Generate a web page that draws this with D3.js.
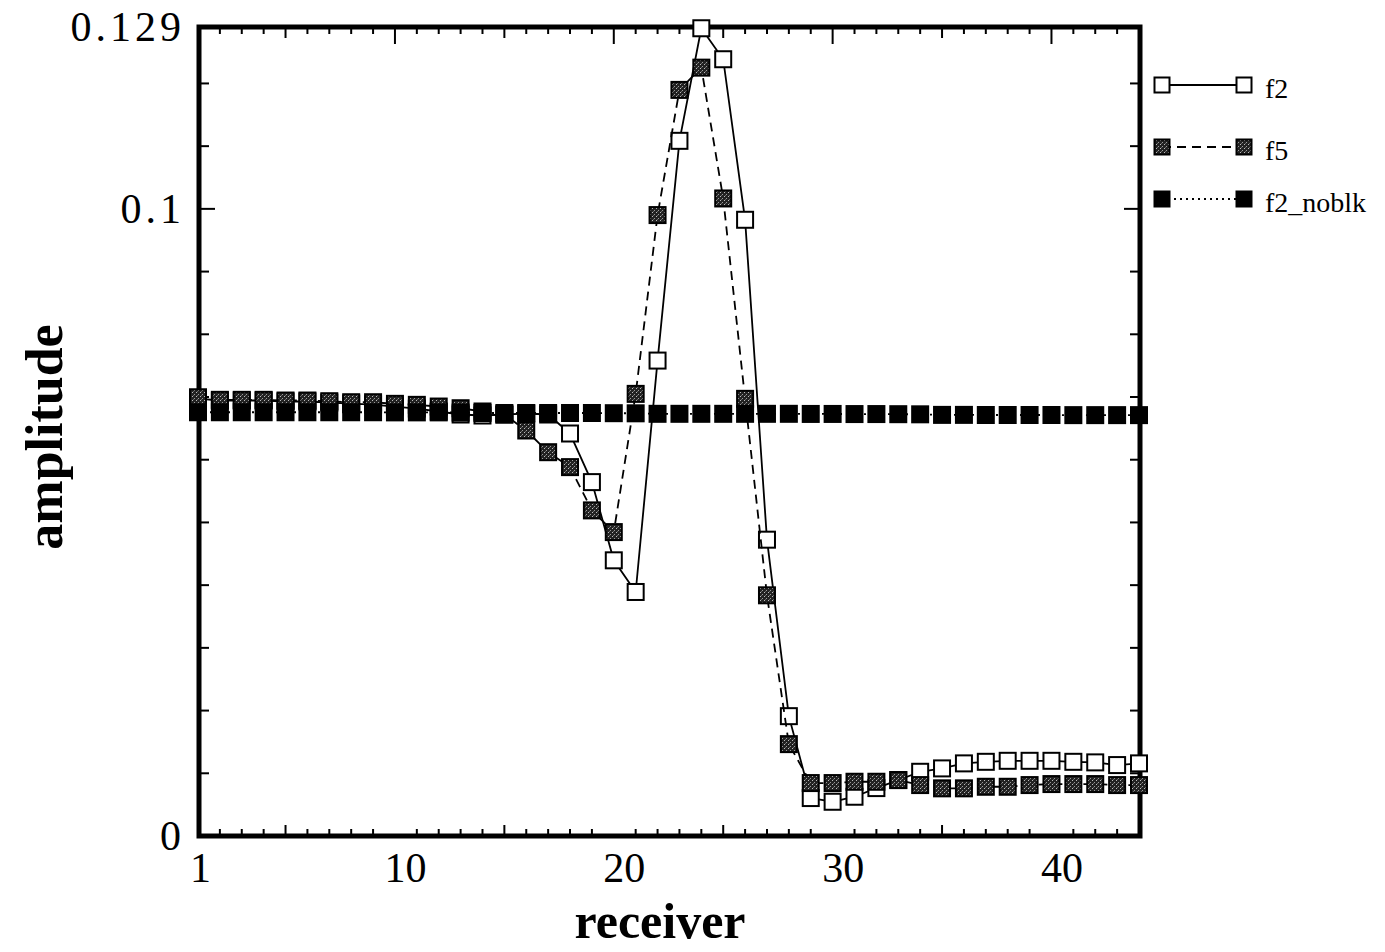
<!DOCTYPE html>
<html><head><meta charset="utf-8">
<script src="https://cdn.jsdelivr.net/npm/d3@7"></script>
<style>html,body{margin:0;padding:0;background:#fff;overflow:hidden} svg{display:block}</style>
</head><body><svg id="chart" width="1385" height="952"></svg>
<script>
// ---------- data ----------
const receivers = [1,2,3,4,5,6,7,8,9,10,11,12,13,14,15,16,17,18,19,20,21,22,23,24,25,26,27,28,29,30,31,32,33,34,35,36,37,38,39,40,41,42,43,44];
const f2 = [0.06975,0.06944,0.06944,0.06944,0.06928,0.06928,0.06912,0.06896,0.06880,0.06848,
            0.06816,0.06769,0.06721,0.06705,0.06721,0.06737,0.06721,0.06418,0.05643,0.04396,
            0.03891,0.07581,0.11085,0.12880,0.12386,0.09826,0.04725,0.01911,0.00605,0.00546,
            0.00626,0.00764,0.00892,0.01024,0.01078,0.01158,0.01183,0.01199,0.01199,0.01199,
            0.01183,0.01174,0.01131,0.01158];
const f5 = [0.06996,0.06955,0.06955,0.06955,0.06944,0.06944,0.06933,0.06917,0.06917,0.06891,
            0.06875,0.06848,0.06821,0.06769,0.06721,0.06466,0.06120,0.05882,0.05192,0.04846,
            0.07050,0.09901,0.11897,0.12252,0.10166,0.06971,0.03838,0.01465,0.00844,0.00844,
            0.00865,0.00865,0.00892,0.00812,0.00760,0.00760,0.00785,0.00785,0.00812,0.00828,
            0.00828,0.00828,0.00812,0.00812];
const f2_noblk = [0.06757,0.06757,0.06757,0.06757,0.06757,0.06757,0.06757,0.06757,0.06757,0.06755,
                  0.06755,0.06755,0.06752,0.06745,0.06745,0.06745,0.06745,0.06745,0.06745,0.06742,
                  0.06740,0.06732,0.06732,0.06732,0.06732,0.06732,0.06732,0.06732,0.06730,0.06730,
                  0.06728,0.06728,0.06726,0.06724,0.06715,0.06715,0.06713,0.06713,0.06713,0.06713,
                  0.06711,0.06711,0.06711,0.06711];
const seriesNames = ["f2", "f5", "f2_noblk"];
const xTickLabels = [1, 10, 20, 30, 40];
const yTickLabels = [0, 0.1, 0.129];
const yMinorTicks = [0.01,0.02,0.03,0.04,0.05,0.06,0.07,0.08,0.09,0.1,0.11,0.12];
const xAxisTitle = "receiver";
const yAxisTitle = "amplitude";

// ---------- layout ----------
const svg = d3.select("#chart");
const L = 199, R = 1140, T = 27, B = 836;
const x = d3.scaleLinear().domain([1, 44]).range([198, 1139]);
const y = d3.scaleLinear().domain([0, 0.129]).range([836, 27]);
const serif = "'Liberation Serif','Times New Roman',serif";

// pattern for f5 markers
const defs = svg.append("defs");
const pat = defs.append("pattern").attr("id", "dither")
  .attr("width", 4).attr("height", 4).attr("patternUnits", "userSpaceOnUse");
pat.append("rect").attr("width", 4).attr("height", 4).attr("fill", "#222");
pat.append("rect").attr("x", 0).attr("y", 0).attr("width", 1).attr("height", 1).attr("fill", "#bbb");
pat.append("rect").attr("x", 2).attr("y", 2).attr("width", 1).attr("height", 1).attr("fill", "#999");
pat.append("rect").attr("x", 1).attr("y", 3).attr("width", 1).attr("height", 1).attr("fill", "#666");

// frame
svg.append("rect").attr("x", L).attr("y", T).attr("width", R - L).attr("height", B - T)
  .attr("fill", "none").attr("stroke", "#000").attr("stroke-width", 5);

// x ticks (top & bottom)
const xMinor = receivers.filter(d => d > 1 && d < 44);
svg.append("g").selectAll("line").data(xMinor).join("line")
  .attr("x1", d => x(d)).attr("x2", d => x(d))
  .attr("y1", T).attr("y2", d => T + (d % 10 === 0 ? 17 : d % 5 === 0 ? 11 : 7))
  .attr("stroke", "#000").attr("stroke-width", 2);
svg.append("g").selectAll("line").data(xMinor.filter(d => d % 10 !== 0)).join("line")
  .attr("x1", d => x(d)).attr("x2", d => x(d))
  .attr("y1", B).attr("y2", d => B - (d % 5 === 0 ? 11 : 7))
  .attr("stroke", "#000").attr("stroke-width", 2);
// y ticks (left & right)
svg.append("g").selectAll("line").data(yMinorTicks).join("line")
  .attr("y1", d => y(d)).attr("y2", d => y(d))
  .attr("x1", L).attr("x2", d => L + (Math.abs(d - 0.1) < 1e-9 ? 16 : 10))
  .attr("stroke", "#000").attr("stroke-width", 2);
svg.append("g").selectAll("line").data(yMinorTicks).join("line")
  .attr("y1", d => y(d)).attr("y2", d => y(d))
  .attr("x1", R).attr("x2", d => R - (Math.abs(d - 0.1) < 1e-9 ? 16 : 10))
  .attr("stroke", "#000").attr("stroke-width", 2);

// axis labels via d3 axes
const xAx = svg.append("g").attr("transform", `translate(0,${B})`)
  .call(d3.axisBottom(x).tickValues(xTickLabels).tickSize(0).tickPadding(16).tickFormat(d3.format("d")));
xAx.select(".domain").remove();
xAx.selectAll("text").attr("font-family", serif).attr("font-size", 42).attr("fill", "#000")
  .attr("dx", d => d === 1 ? 2 : 10);
const yAx = svg.append("g").attr("transform", `translate(${L},0)`)
  .call(d3.axisLeft(y).tickValues(yTickLabels).tickSize(0).tickPadding(14)
        .tickFormat(d => d === 0 ? "0" : String(d)));
yAx.select(".domain").remove();
yAx.selectAll("text").attr("font-family", serif).attr("font-size", 42).attr("fill", "#000")
  .attr("letter-spacing", 4);

// titles
svg.append("text").attr("x", 660).attr("y", 938).attr("text-anchor", "middle")
  .attr("font-family", serif).attr("font-weight", "bold").attr("font-size", 50).text(xAxisTitle);
svg.append("text").attr("transform", "translate(62,437) rotate(-90)").attr("text-anchor", "middle")
  .attr("font-family", serif).attr("font-weight", "bold").attr("font-size", 52).text(yAxisTitle);

// series
const series = [
  {name: seriesNames[0], values: f2, fill: "#fff", dash: null},
  {name: seriesNames[1], values: f5, fill: "url(#dither)", dash: "9,6"},
  {name: seriesNames[2], values: f2_noblk, fill: "#000", dash: "2,4"}
];
const line = d3.line().x((d, i) => x(receivers[i])).y(d => y(d));
const ms = 16;
series.forEach(s => {
  const g = svg.append("g");
  g.append("path").attr("d", line(s.values)).attr("fill", "none").attr("stroke", "#000")
    .attr("stroke-width", 1.8).attr("stroke-dasharray", s.dash);
  g.selectAll("rect").data(s.values).join("rect")
    .attr("x", (d, i) => x(receivers[i]) - ms / 2).attr("y", d => y(d) - ms / 2)
    .attr("width", ms).attr("height", ms)
    .attr("fill", s.fill).attr("stroke", "#000").attr("stroke-width", 2);
});

// legend
const legY = [85, 147, 199];
const lx1 = 1162, lx2 = 1244, lms = 15;
series.forEach((s, k) => {
  const g = svg.append("g");
  g.append("line").attr("x1", lx1).attr("x2", lx2).attr("y1", legY[k]).attr("y2", legY[k])
    .attr("stroke", "#000").attr("stroke-width", 1.8).attr("stroke-dasharray", s.dash);
  [lx1, lx2].forEach(cx => g.append("rect").attr("x", cx - lms / 2).attr("y", legY[k] - lms / 2)
    .attr("width", lms).attr("height", lms).attr("fill", s.fill).attr("stroke", "#000").attr("stroke-width", 2));
  g.append("text").attr("x", 1265).attr("y", legY[k] + 13).attr("font-family", serif)
    .attr("font-size", 28).text(s.name);
});
</script></body></html>
